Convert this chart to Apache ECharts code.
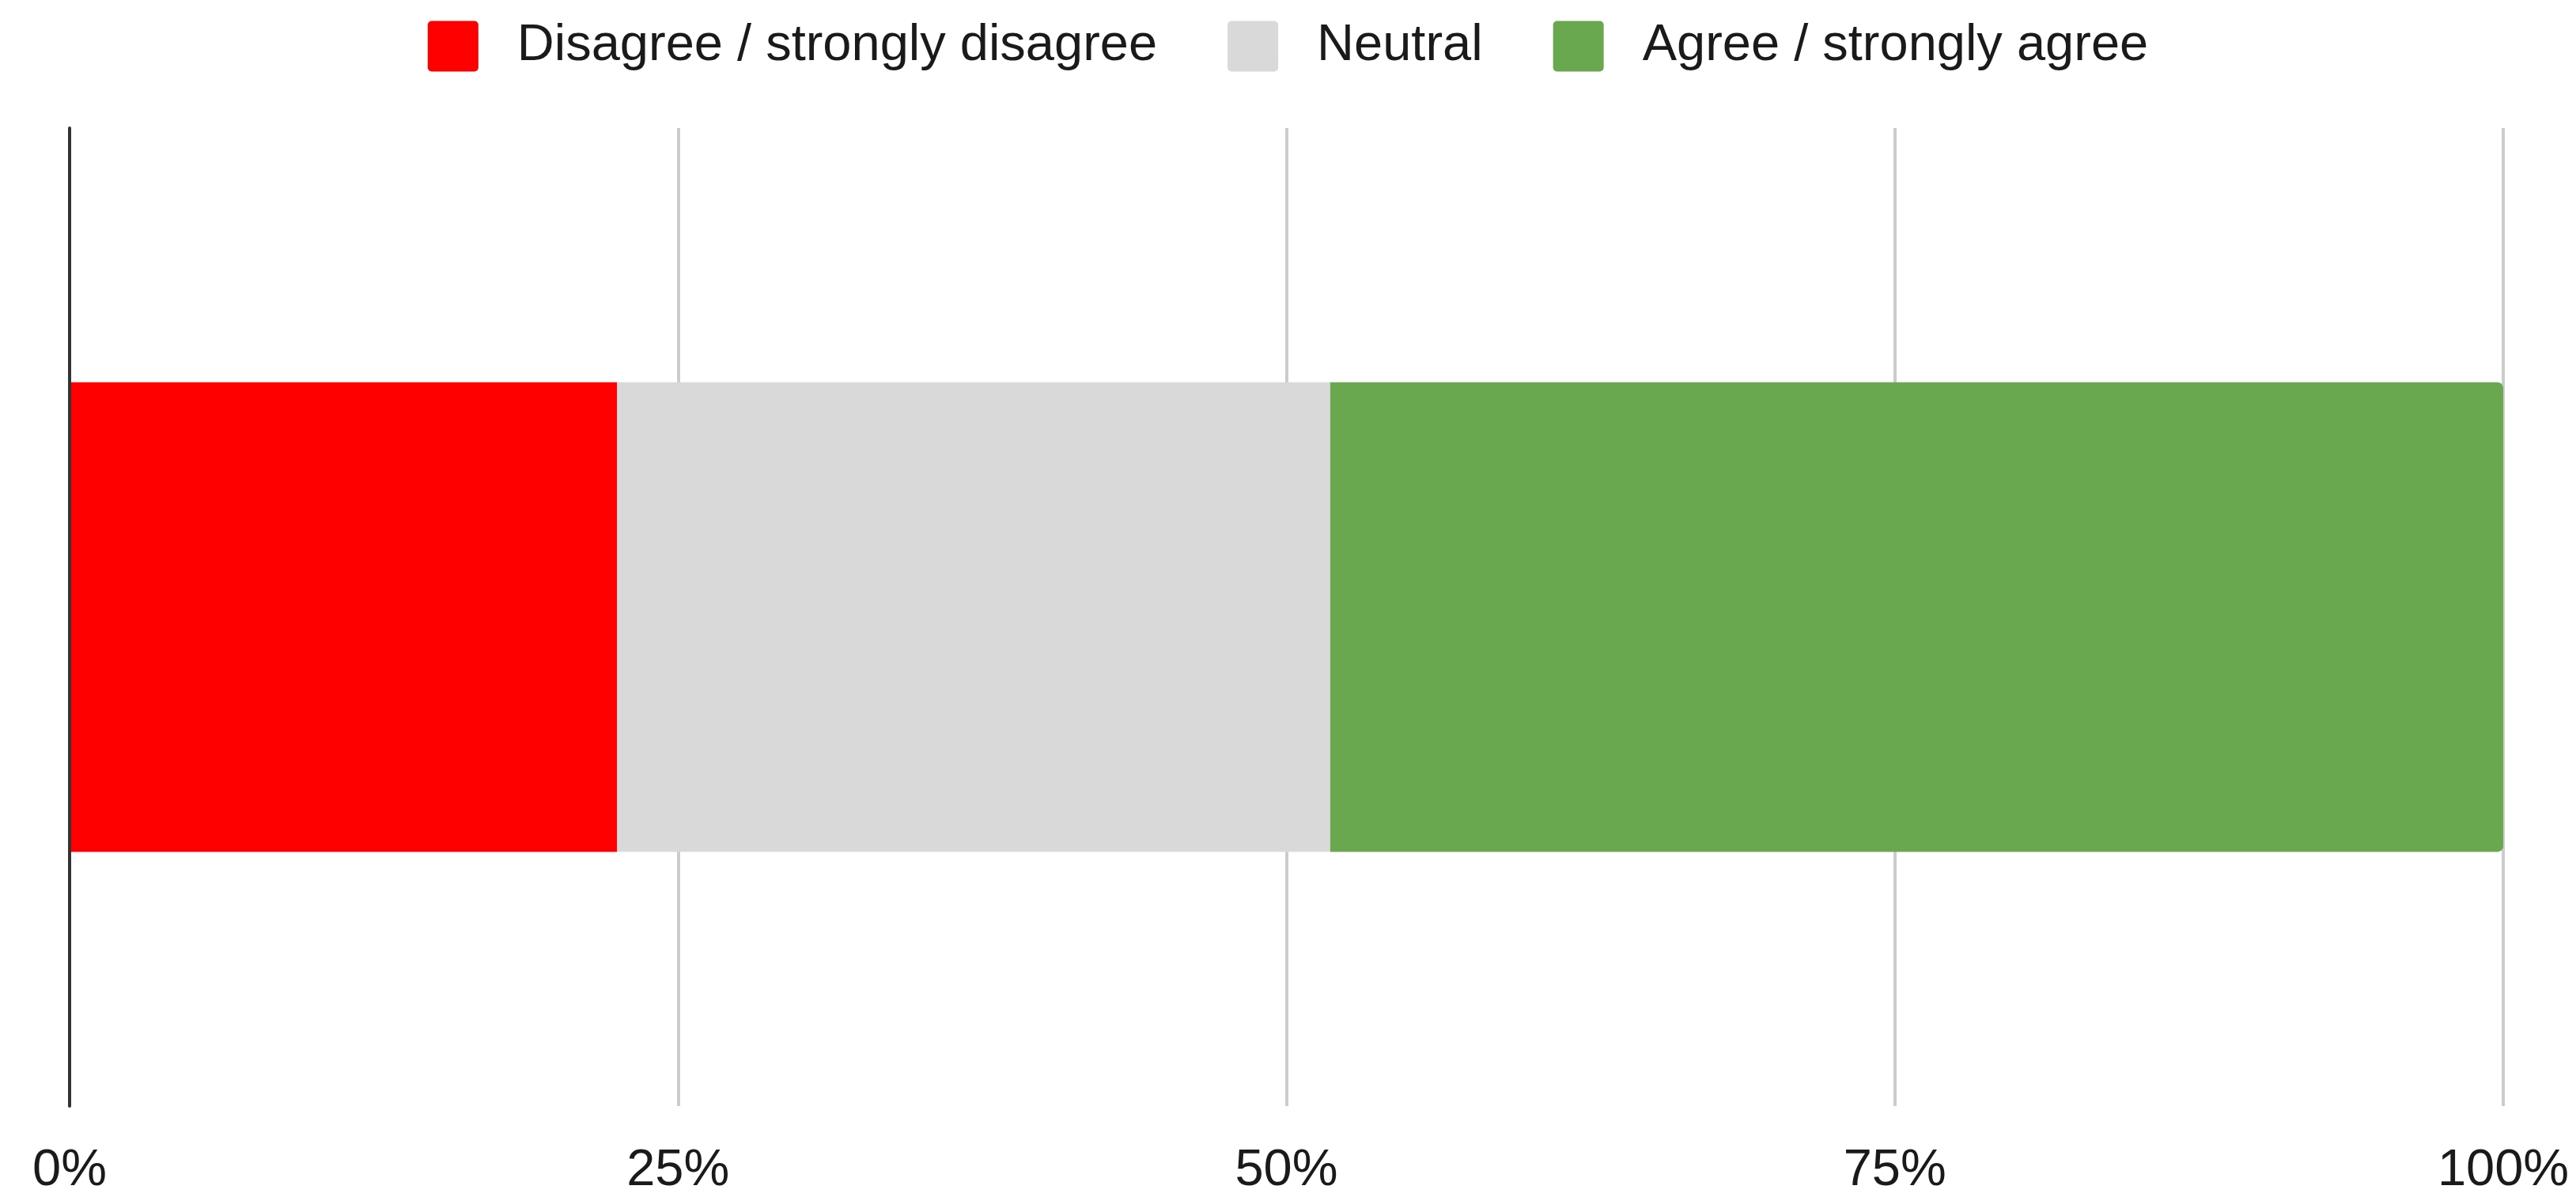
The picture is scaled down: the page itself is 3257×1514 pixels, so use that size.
<!DOCTYPE html>
<html>
<head>
<meta charset="utf-8">
<script src="https://cdn.jsdelivr.net/npm/echarts@6/dist/echarts.min.js"></script>
<style>
  html, body { margin: 0; padding: 0; background: #ffffff; }
  #chart { width: 3257px; height: 1514px; }
</style>
</head>
<body>
<div id="chart"></div>
<script>
// ---- Data ----
const categories = ['Responses'];
const seriesNames = ['Disagree / strongly disagree', 'Neutral', 'Agree / strongly agree'];
const disagreeValues = [22.5];
const neutralValues = [29.3];
const agreeValues = [48.2];
const tickLabels = ['0%', '25%', '50%', '75%', '100%'];

const colors = ['#ff0000', '#d9d9d9', '#6aa84f'];
const FONT = '"Liberation Sans", Arial, sans-serif';
const iconPath = 'path://M5,0 H59 A5,5 0 0 1 64,5 V59 A5,5 0 0 1 59,64 H5 A5,5 0 0 1 0,59 V5 A5,5 0 0 1 5,0 Z';

const chart = echarts.init(document.getElementById('chart'), null, { renderer: 'canvas' });

const option = {
  backgroundColor: '#ffffff',
  animation: false,
  legend: {
    top: 21,
    left: 'center',
    itemWidth: 64,
    itemHeight: 64,
    itemGap: 89,
    icon: iconPath,
    textStyle: {
      fontFamily: FONT,
      fontSize: 65,
      color: '#1a1a1a',
      padding: [0, 0, 0, 44]
    },
    data: seriesNames
  },
  grid: {
    left: 88,
    right: 92,
    top: 162,
    bottom: 111,
    containLabel: false
  },
  xAxis: {
    type: 'value',
    min: 0,
    max: 100,
    interval: 25,
    axisLine: { show: false },
    axisTick: { show: false },
    splitLine: { show: true, lineStyle: { color: '#cccccc', width: 4 } },
    axisLabel: {
      margin: 50,
      fontFamily: FONT,
      fontSize: 65,
      color: '#1a1a1a',
      formatter: function (v) { return tickLabels[Math.round(v / 25)]; }
    }
  },
  yAxis: {
    type: 'category',
    data: categories,
    axisLine: { show: true, lineStyle: { color: '#333333', width: 4 } },
    axisTick: { show: false },
    axisLabel: { show: false },
    splitLine: { show: false },
    z: 5
  },
  series: [
    {
      name: seriesNames[0],
      type: 'bar',
      stack: 'total',
      barWidth: '48%',
      itemStyle: { color: colors[0] },
      data: disagreeValues
    },
    {
      name: seriesNames[1],
      type: 'bar',
      stack: 'total',
      barWidth: '48%',
      itemStyle: { color: colors[1] },
      data: neutralValues
    },
    {
      name: seriesNames[2],
      type: 'bar',
      stack: 'total',
      barWidth: '48%',
      itemStyle: { color: colors[2], borderRadius: [0, 7, 7, 0] },
      data: agreeValues
    }
  ]
};

chart.setOption(option);
</script>
</body>
</html>
